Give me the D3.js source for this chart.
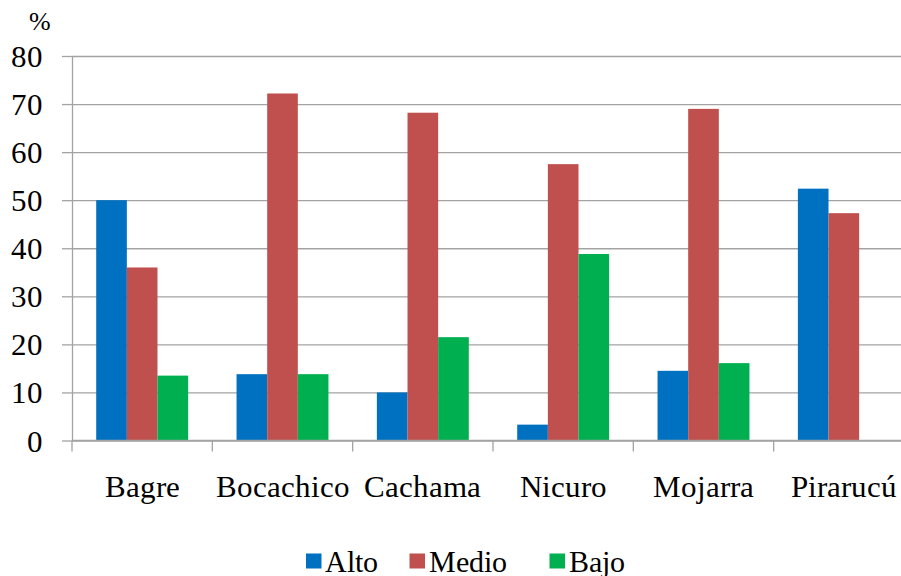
<!DOCTYPE html>
<html>
<head>
<meta charset="utf-8">
<script src="https://cdn.jsdelivr.net/npm/d3@7"></script>
<style>
  @font-face {
    font-family: "ChartSerif";
    src: local("Liberation Serif"), local("LiberationSerif"), local("LiberationSerif-Regular"),
         local("Times New Roman"), local("DejaVu Serif"), local("DejaVuSerif");
  }
  html, body { margin: 0; padding: 0; background: #fff; }
  svg { display: block; }
</style>
</head>
<body>
<svg id="chart" width="901" height="576"></svg>
<script>
// Fish species and their share (%) per level
const categories = ["Bagre", "Bocachico", "Cachama", "Nicuro", "Mojarra", "Pirarucú"];
const seriesNames = ["Alto", "Medio", "Bajo"];
const alto  = [50, 13.8, 10, 3.3, 14.5, 52.4];
const medio = [36, 72.2, 68.2, 57.5, 69, 47.3];
const bajo  = [13.5, 13.8, 21.5, 38.8, 16.1, 0];
const yTicks = [0, 10, 20, 30, 40, 50, 60, 70, 80];
const colors = ["#0070C0", "#C0504D", "#00B050"];

const serifFont = "ChartSerif, 'Liberation Serif', 'Times New Roman', 'DejaVu Serif', serif";

const seriesValues = [alto, medio, bajo];
const rows = categories.map((c, i) => ({
  cat: c,
  vals: seriesNames.map((s, j) => ({ key: s, value: seriesValues[j][i] }))
}));

const svg = d3.select("#chart");
const plotLeft = 72, plotRight = 914, plotTop = 56, plotBottom = 440.5;

const x0 = d3.scaleBand().domain(categories).range([plotLeft, plotRight]).paddingInner(0).paddingOuter(0);
const x1 = d3.scaleBand().domain(seriesNames).range([0, x0.bandwidth()]).paddingInner(0).paddingOuter(0.79);
const y = d3.scaleLinear().domain([0, 80]).range([plotBottom, plotTop]);
const color = d3.scaleOrdinal().domain(seriesNames).range(colors);

// Horizontal gridlines
svg.append("g")
  .attr("transform", `translate(${plotLeft},0)`)
  .call(d3.axisLeft(y).tickValues(yTicks).tickSize(-(plotRight - plotLeft)).tickFormat(""))
  .call(g => g.select(".domain").remove())
  .call(g => g.selectAll("line").attr("stroke", "#a3a3a3").attr("stroke-width", 1.3));

// Bars
svg.append("g").selectAll("g")
  .data(rows)
  .join("g")
  .attr("transform", d => `translate(${x0(d.cat)},0)`)
  .selectAll("rect")
  .data(d => d.vals.filter(v => v.value > 0))
  .join("rect")
  .attr("x", d => x1(d.key))
  .attr("width", x1.bandwidth())
  .attr("y", d => y(d.value))
  .attr("height", d => y(0) - y(d.value))
  .attr("fill", d => color(d.key));

// Y axis
const yAxis = svg.append("g")
  .attr("transform", `translate(${plotLeft},0)`)
  .call(d3.axisLeft(y).tickValues(yTicks).tickSize(10).tickPadding(19).tickSizeOuter(0))
  .attr("font-family", serifFont)
  .attr("font-size", 31);
yAxis.select(".domain").attr("stroke", "#a3a3a3").attr("stroke-width", 1.3);
yAxis.selectAll(".tick line").attr("stroke", "#a3a3a3").attr("stroke-width", 1.3);
yAxis.selectAll(".tick text")
  .attr("fill", "#000")
  .attr("dy", "0.34em");

// X axis with boundary ticks between categories
const xAxis = svg.append("g")
  .attr("transform", `translate(0,${plotBottom})`)
  .attr("font-family", serifFont)
  .attr("font-size", 31);
xAxis.append("line")
  .attr("x1", plotLeft).attr("x2", plotRight)
  .attr("stroke", "#a3a3a3").attr("stroke-width", 1.3);
xAxis.selectAll("line.tick")
  .data(categories)
  .join("line")
  .attr("class", "tick")
  .attr("x1", d => x0(d)).attr("x2", d => x0(d))
  .attr("y1", 0).attr("y2", 11)
  .attr("stroke", "#a3a3a3").attr("stroke-width", 1.3);
xAxis.selectAll("text")
  .data(categories)
  .join("text")
  .attr("x", d => x0(d) + x0.bandwidth() / 2)
  .attr("y", 56.5)
  .attr("text-anchor", "middle")
  .attr("fill", "#000")
  .text(d => d);

// Unit label
svg.append("text")
  .attr("x", 29).attr("y", 30)
  .attr("font-family", serifFont)
  .attr("font-size", 26)
  .text("%");

// Legend
const legendItems = [
  { key: "Alto", x: 306 },
  { key: "Medio", x: 409.5 },
  { key: "Bajo", x: 549.5 }
];
const legend = svg.append("g")
  .attr("font-family", serifFont)
  .attr("font-size", 30);
const li = legend.selectAll("g").data(legendItems).join("g")
  .attr("transform", d => `translate(${d.x},0)`);
li.append("rect")
  .attr("x", 0).attr("y", 553.5)
  .attr("width", 15.5).attr("height", 15)
  .attr("fill", d => color(d.key));
li.append("text")
  .attr("x", 19).attr("y", 571.5)
  .attr("fill", "#000")
  .text(d => d.key);
</script>
</body>
</html>
